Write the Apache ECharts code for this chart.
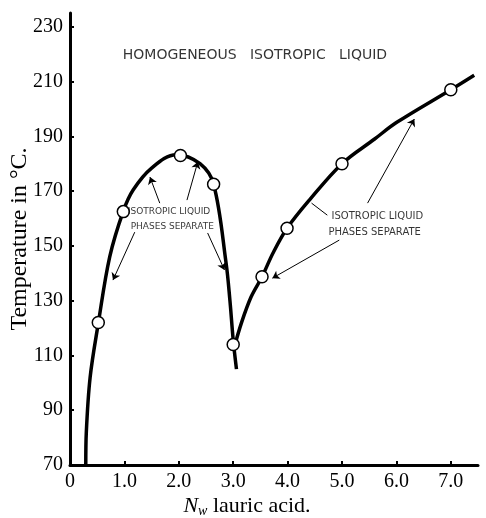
<!DOCTYPE html>
<html><head><meta charset="utf-8">
<script src="https://cdn.jsdelivr.net/npm/echarts@6/dist/echarts.min.js"></script>
<style>html,body{margin:0;padding:0;background:#fff}#c{width:486px;height:518px}</style>
</head><body><div id="c"></div>
<script>
// ---- data ----
const xTicks = [0, 1, 2, 3, 4, 5, 6, 7];
const yTicks = [70, 90, 110, 130, 150, 170, 190, 210, 230];

// left two-liquid-phase region boundary
const leftCurve = [
  [0.29, 70], [0.30, 82], [0.37, 102], [0.52, 121.7], [0.73, 146], [0.98, 162.7],
  [1.16, 170.4], [1.5, 178.4], [1.95, 183.3], [2.39, 180], [2.64, 172.5],
  [2.87, 143.6], [2.94, 130], [3.0, 115.6], [3.06, 105]
];
// right two-liquid-phase region boundary
const rightCurve = [
  [3.02, 113], [3.15, 121.8], [3.33, 131.4], [3.53, 138.7], [3.73, 147.3],
  [3.99, 156.4], [4.4, 166.7], [5.0, 180], [5.6, 189], [6.0, 195], [7.0, 207], [7.43, 212.3]
];
// measured points (open circles)
const measured = [
  [0.52, 122], [0.98, 162.5], [2.03, 183], [2.64, 172.5], [3.0, 114],
  [3.53, 138.7], [3.99, 156.4], [5.0, 180], [7.0, 207]
];
// annotation texts
const annoTexts = ['HOMOGENEOUS   ISOTROPIC   LIQUID', 'ISOTROPIC LIQUID', 'PHASES SEPARATE', 'ISOTROPIC LIQUID', 'PHASES SEPARATE'];
const annoAt = [[3.40, 219.6], [1.82, 162.5], [1.88, 157.1], [5.65, 160.7], [5.60, 154.9]];
const annoSize = [14, 9, 9, 10, 10];
// annotation pointers: [from, to, arrowhead?]
const pointers = [
  [[1.65, 165.6], [1.47, 175.1], true],
  [[2.15, 166.7], [2.35, 180.7], true],
  [[1.19, 155.0], [0.79, 137.5], true],
  [[2.53, 154.7], [2.84, 141.2], true],
  [[4.73, 161.2], [4.44, 165.6], false],
  [[4.95, 152.1], [3.72, 138.2], true],
  [[5.47, 165.6], [6.33, 196.3], true]
];

// ---- chart ----
const ink = '#000';
const chart = echarts.init(document.getElementById('c'), null, {renderer: 'canvas'});
const serif = 'Liberation Serif, Times New Roman, serif';
const sans = 'DejaVu Sans, sans-serif';

chart.setOption({
  animation: false,
  backgroundColor: '#fff',
  grid: {left: 70, right: 8, top: 13, bottom: 53, containLabel: false, outerBoundsMode: 'none'},
  xAxis: {
    type: 'value', min: 0, max: 7.5,
    axisLine: {show: true, onZero: false, lineStyle: {color: ink, width: 3}},
    axisTick: {show: true, inside: true, length: 4, customValues: xTicks, lineStyle: {color: ink, width: 2}},
    axisLabel: {
      customValues: xTicks, margin: 7, color: ink, fontFamily: serif, fontSize: 20,
      formatter: v => v === 0 ? '0' : v.toFixed(1)
    },
    splitLine: {show: false},
    name: '{n|N}{s|w} lauric acid.',
    nameLocation: 'middle', nameGap: 30, nameMoveOverlap: false,
    nameTextStyle: {
      color: ink, fontFamily: serif, fontSize: 22, padding: [0, 54, 0, 0],
      rich: {
        n: {fontFamily: serif, fontSize: 22, fontStyle: 'italic', color: ink},
        s: {fontFamily: serif, fontSize: 14, fontStyle: 'italic', color: ink, padding: [9, 0, 0, 0]}
      }
    }
  },
  yAxis: {
    type: 'value', min: 70, max: 235,
    axisLine: {show: true, onZero: false, lineStyle: {color: ink, width: 3}},
    axisTick: {show: true, inside: true, length: 4, customValues: yTicks, lineStyle: {color: ink, width: 2}},
    axisLabel: {customValues: yTicks, margin: 7, color: ink, fontFamily: serif, fontSize: 20},
    splitLine: {show: false},
    name: 'Temperature in °C.',
    nameLocation: 'middle', nameGap: 38, nameRotate: 90, nameMoveOverlap: false,
    nameTextStyle: {color: ink, fontFamily: serif, fontSize: 24}
  },
  series: [
    {
      type: 'line', data: leftCurve, smooth: 0.35, showSymbol: false, silent: true,
      lineStyle: {color: ink, width: 3.5}, z: 2
    },
    {
      type: 'line', data: rightCurve, smooth: 0.35, showSymbol: false, silent: true,
      lineStyle: {color: ink, width: 3.5}, z: 2
    },
    {
      type: 'scatter', data: measured, symbol: 'circle', symbolSize: 12, silent: true,
      itemStyle: {color: '#fff', borderColor: ink, borderWidth: 1.5, opacity: 1}, z: 5
    },
    {
      type: 'scatter', symbolSize: 0, silent: true, z: 6,
      data: annoTexts.map((t, i) => ({
        value: annoAt[i], name: t,
        label: {show: true, position: 'inside', formatter: '{b}', color: ink, fontFamily: sans, fontSize: annoSize[i]}
      })),
      markLine: {
        silent: true, animation: false,
        symbol: ['none', 'arrow'], symbolSize: 7,
        label: {show: false},
        lineStyle: {color: ink, width: 1, type: 'solid'},
        data: pointers.map(p => [
          {coord: p[0], symbol: 'none'},
          {coord: p[1], symbol: p[2] ? 'arrow' : 'none'}
        ])
      }
    }
  ]
});
</script>
</body></html>
